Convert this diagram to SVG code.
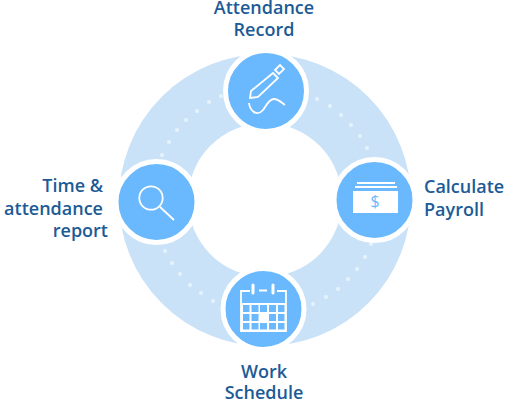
<svg xmlns="http://www.w3.org/2000/svg" width="513" height="401" viewBox="0 0 513 401">
<style>
.ring{fill:none;stroke:#c9e2f8;stroke-width:69}
.disc{fill:#6ab9fe;stroke:#fff;stroke-width:5}
.dot{fill:#e6f2fc}
.ic{fill:none;stroke:#fff;stroke-width:1.8;stroke-linejoin:miter}
.lb{font-family:"Open Sans","Noto Sans",sans-serif;font-size:18px;font-weight:600;fill:#1c5b96}
</style>
<g id="connectors">
<circle class="ring" cx="265" cy="200" r="111.5"/>
<g>
<circle class="dot" cx="221" cy="96" r="2"/><circle class="dot" cx="209" cy="102" r="2"/><circle class="dot" cx="197" cy="111" r="2"/><circle class="dot" cx="186" cy="120" r="2"/><circle class="dot" cx="177" cy="130" r="2"/><circle class="dot" cx="169" cy="142" r="2"/><circle class="dot" cx="162" cy="155" r="2"/>
<circle class="dot" cx="371" cy="244" r="2"/><circle class="dot" cx="365" cy="257" r="2"/><circle class="dot" cx="357" cy="269" r="2"/><circle class="dot" cx="348" cy="279" r="2"/><circle class="dot" cx="338" cy="289" r="2"/><circle class="dot" cx="326" cy="297" r="2"/><circle class="dot" cx="313" cy="304" r="2"/>
<circle class="dot" cx="317" cy="99" r="2"/><circle class="dot" cx="330" cy="106" r="2"/><circle class="dot" cx="341" cy="115" r="2"/><circle class="dot" cx="351" cy="125" r="2"/><circle class="dot" cx="360" cy="136" r="2"/><circle class="dot" cx="367" cy="148" r="2"/>
<circle class="dot" cx="165" cy="251" r="2"/><circle class="dot" cx="172" cy="263" r="2"/><circle class="dot" cx="180" cy="274" r="2"/><circle class="dot" cx="190" cy="285" r="2"/><circle class="dot" cx="201" cy="293" r="2"/><circle class="dot" cx="213" cy="301" r="2"/>
</g>
</g>
<g id="node-attendance">
<circle class="disc" cx="266" cy="91" r="40.5"/>
<path class="ic" d="M273 73l5 5-20 19-8 1 1-7zM275 70l5-5 4 4-5 5zM249 103c1 8 8 14 14 7 3-4 6-11 11-11 4 0 7 3 11 6"/>
<text class="lb" text-anchor="middle"><tspan x="264" y="14">Attendance</tspan><tspan x="264" y="36">Record</tspan></text>
</g>
<g id="node-payroll">
<circle class="disc" cx="374.500" cy="200" r="40.5"/>
<path d="M357 183h38M355 187h42" stroke="#fff" stroke-width="2" fill="none"/>
<rect x="353" y="191" width="45" height="22" fill="#fff"/>
<text x="375" y="207" text-anchor="middle" font-family="Open Sans,sans-serif" font-size="16" fill="#6ab9fe">$</text>
<text class="lb"><tspan x="424" y="193">Calculate</tspan><tspan x="424" y="216">Payroll</tspan></text>
</g>
<g id="node-schedule">
<circle class="disc" cx="263.500" cy="309" r="40.5"/>
<path class="ic" d="M250 291h-9v40h45v-40h-9M259 290.500h8"/>
<path d="M253 285v8M273 285v8" fill="none" stroke="#fff" stroke-width="3" stroke-linecap="round"/>
<rect x="241" y="303" width="45" height="28" fill="#fff"/>
<path d="M243 305h6.500v7h-6.500zM251.500 305h7v7h-7zM260 305h7v7h-7zM269 305h7v7h-7zM278 305h6.500v7h-6.500zM243 314h6.500v7h-6.500zM251.500 314h7v7h-7zM269 314h7v7h-7zM278 314h6.500v7h-6.500zM243 323h6.500v6.500h-6.500zM251.500 323h7v6.500h-7zM260 323h7v6.500h-7zM269 323h7v6.500h-7zM278 323h6.500v6.500h-6.500z" fill="#6ab9fe"/>
<text class="lb" text-anchor="middle"><tspan x="264" y="378">Work</tspan><tspan x="264" y="399">Schedule</tspan></text>
</g>
<g id="node-report">
<circle class="disc" cx="156.500" cy="202" r="40.5"/>
<circle class="ic" cx="151" cy="198" r="11.700" stroke-width="2.400"/>
<path class="ic" d="M160 207l14 13" stroke-width="2.400"/>
<text class="lb" text-anchor="end"><tspan x="103" y="192">Time &amp;</tspan><tspan x="103" y="215">attendance</tspan><tspan x="108" y="237">report</tspan></text>
</g>
</svg>
